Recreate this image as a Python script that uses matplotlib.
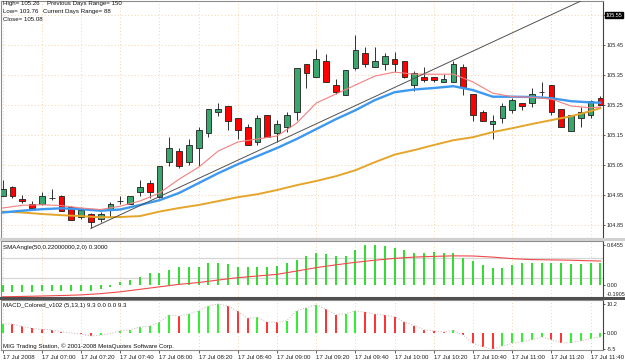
import numpy as np
import matplotlib.pyplot as plt
import matplotlib.transforms as mtransforms
from matplotlib.patches import Rectangle

plt.rcParams['font.family'] = ['Liberation Sans', 'DejaVu Sans']

# 5 minute bars, 17 Jul 2008 from 06:40
bar_open = [104.947, 104.978, 104.938, 104.919, 104.919, 104.939, 104.948, 104.909, 104.878, 104.888,
            104.869, 104.900, 104.929, 104.919, 104.959, 104.989, 104.944, 105.059, 105.097, 105.059,
            105.108, 105.156, 105.226, 105.247, 105.206, 105.176, 105.128, 105.216, 105.156, 105.176,
            105.226, 105.386, 105.344, 105.396, 105.317, 105.284, 105.374, 105.423, 105.376, 105.386,
            105.403, 105.397, 105.317, 105.344, 105.344, 105.326, 105.326, 105.376, 105.287, 105.226,
            105.187, 105.206, 105.233, 105.258, 105.258, 105.294, 105.317, 105.236, 105.164, 105.206,
            105.217, 105.272]
bar_high = [105.000, 104.980, 104.949, 104.930, 104.959, 104.970, 104.950, 104.913, 104.909, 104.891,
            104.894, 104.928, 104.947, 104.948, 105.000, 105.000, 105.048, 105.144, 105.106, 105.136,
            105.178, 105.236, 105.256, 105.247, 105.206, 105.186, 105.217, 105.216, 105.200, 105.226,
            105.374, 105.386, 105.436, 105.422, 105.336, 105.366, 105.484, 105.444, 105.444, 105.424,
            105.426, 105.397, 105.364, 105.376, 105.344, 105.353, 105.398, 105.387, 105.287, 105.233,
            105.217, 105.256, 105.274, 105.258, 105.306, 105.328, 105.317, 105.236, 105.217, 105.244,
            105.267, 105.280]
bar_low = [104.947, 104.940, 104.924, 104.900, 104.917, 104.933, 104.898, 104.867, 104.869, 104.839,
           104.861, 104.878, 104.920, 104.919, 104.947, 104.939, 104.940, 105.048, 105.039, 105.049,
           105.048, 105.144, 105.214, 105.167, 105.136, 105.117, 105.117, 105.144, 105.128, 105.159,
           105.200, 105.306, 105.344, 105.327, 105.287, 105.284, 105.367, 105.378, 105.376, 105.367,
           105.361, 105.340, 105.298, 105.326, 105.326, 105.326, 105.326, 105.283, 105.198, 105.198,
           105.136, 105.189, 105.224, 105.233, 105.244, 105.280, 105.217, 105.178, 105.164, 105.178,
           105.206, 105.252]
bar_close = [104.969, 104.947, 104.929, 104.908, 104.948, 104.939, 104.898, 104.867, 104.900, 104.860,
             104.888, 104.919, 104.929, 104.948, 104.978, 104.959, 105.048, 105.107, 105.047, 105.117,
             105.167, 105.236, 105.236, 105.198, 105.167, 105.117, 105.206, 105.144, 105.186, 105.216,
             105.374, 105.356, 105.403, 105.327, 105.294, 105.366, 105.434, 105.386, 105.396, 105.413,
             105.386, 105.344, 105.356, 105.333, 105.333, 105.336, 105.387, 105.309, 105.216, 105.198,
             105.198, 105.246, 105.267, 105.247, 105.286, 105.294, 105.226, 105.178, 105.217, 105.228,
             105.264, 105.252]

# moving averages read at every second bar
ma_bars = list(range(0, 61, 2)) + [61]
ema_fast = [104.907, 104.916, 104.918, 104.915, 104.907, 104.902, 104.913, 104.930, 104.957, 105.003,
            105.043, 105.097, 105.127, 105.137, 105.147, 105.190, 105.257, 105.287, 105.317, 105.347,
            105.360, 105.353, 105.353, 105.353, 105.327, 105.290, 105.278, 105.276, 105.270, 105.247,
            105.241, 105.244]
ema_mid = [104.892, 104.898, 104.903, 104.906, 104.903, 104.898, 104.902, 104.917, 104.933, 104.957,
           104.990, 105.023, 105.053, 105.080, 105.107, 105.137, 105.170, 105.203, 105.233, 105.267,
           105.293, 105.302, 105.307, 105.313, 105.300, 105.278, 105.278, 105.277, 105.273, 105.263,
           105.259, 105.258]
sma_slow = [104.895, 104.892, 104.887, 104.883, 104.880, 104.876, 104.877, 104.880, 104.895, 104.907,
            104.917, 104.930, 104.943, 104.953, 104.967, 104.983, 104.997, 105.013, 105.033, 105.060,
            105.085, 105.100, 105.117, 105.133, 105.143, 105.160, 105.173, 105.187, 105.200, 105.213,
            105.230, 105.240]

trend_bars = [9, 59.2]
trend_price = [104.839, 105.60]

price_ticks = [105.55, 105.45, 105.35, 105.25, 105.15, 105.05, 104.95, 104.85]
time_bars = list(range(0, 61, 4))
time_labels = ["17 Jul 2008", "17 Jul 07:00", "17 Jul 07:20", "17 Jul 07:40", "17 Jul 08:00",
               "17 Jul 08:20", "17 Jul 08:40", "17 Jul 09:00", "17 Jul 09:20", "17 Jul 09:40",
               "17 Jul 10:00", "17 Jul 10:20", "17 Jul 10:40", "17 Jul 11:00", "17 Jul 11:20",
               "17 Jul 11:40"]

sma_angle = [-0.11, -0.11, -0.11, -0.11, -0.105, -0.10, -0.10, -0.10, -0.10, -0.09,
             -0.07, -0.03, 0.054, 0.081, 0.134, 0.188, 0.188, 0.242, 0.296, 0.285,
             0.296, 0.349, 0.349, 0.333, 0.296, 0.285, 0.285, 0.285, 0.312, 0.349,
             0.403, 0.473, 0.511, 0.50, 0.468, 0.473, 0.565, 0.645, 0.645, 0.629,
             0.602, 0.565, 0.521, 0.521, 0.527, 0.521, 0.511, 0.441, 0.392, 0.323,
             0.269, 0.269, 0.323, 0.36, 0.36, 0.36, 0.36, 0.349, 0.333, 0.333,
             0.36, 0.36]
sma_angle_sig = [-0.19, -0.185, -0.178, -0.17, -0.16, -0.14, -0.11, -0.07, -0.03, 0.01,
                 0.04, 0.08, 0.118, 0.145, 0.172, 0.225, 0.28, 0.325, 0.366, 0.40,
                 0.43, 0.45, 0.462, 0.47, 0.468, 0.45, 0.425, 0.41, 0.405, 0.40,
                 0.39, 0.387]
sma_levels = [0.43, 0.12]

macd_hist = [3.3, 3.2, 2.4, 1.7, 1.4, 1.2, 0.5, 0.1, -0.3, -0.9,
             -0.7, 0.0, 0.9, 1.2, 2.2, 2.4, 3.9, 6.3, 6.0, 6.7,
             7.8, 9.5, 10.2, 9.5, 7.6, 5.3, 5.5, 4.0, 3.8, 4.4,
             7.8, 8.9, 9.9, 8.4, 6.5, 6.8, 7.8, 7.3, 6.7, 6.3,
             5.8, 3.9, 2.7, 1.25, 0.8, 0.45, 1.0, -0.6, -3.5, -4.6,
             -5.5, -4.4, -3.5, -2.9, -2.2, -1.25, -2.2, -3.3, -3.2, -2.6,
             -1.8, -1.25]

W, H = 625, 363
FS = 4.4
FS_AX = 4.0
GRID = dict(color='#f2c58c', linestyle=(0, (1, 3)), linewidth=0.6)

fig = plt.figure(figsize=(W / 100, H / 100), dpi=100)
fig.patch.set_facecolor('white')


def px_axes(x0, y0, x1, y1):
    return fig.add_axes([x0 / W, 1 - y1 / H, (x1 - x0) / W, (y1 - y0) / H])


def style(a):
    for s in a.spines.values():
        s.set_color('#8c8c8c')
        s.set_linewidth(0.8)
    a.spines['right'].set_color('#404040')
    a.yaxis.tick_right()
    a.tick_params(axis='y', length=1.5, width=0.5, pad=1.0, labelsize=FS_AX, colors='#202020')
    a.tick_params(axis='x', length=0, labelbottom=False)
    a.set_xlim(-0.17, 61.26)
    a.set_xticks(time_bars)


ax = px_axes(1, 1, 603, 238)
ax_sma = px_axes(1, 241, 603, 297)
ax_macd = px_axes(1, 300, 603, 350)
for a in (ax, ax_sma, ax_macd):
    style(a)

# price chart
n = np.arange(len(bar_open))
o = np.array(bar_open)
c = np.array(bar_close)
up = c >= o
ax.vlines(n, bar_low, bar_high, color='#303030', linewidth=0.7, zorder=3)
ax.bar(n, np.abs(c - o), bottom=np.minimum(o, c), width=0.58,
       color=np.where(up, '#3aa66e', '#ff0000'), edgecolor='#202020', linewidth=0.6, zorder=4)
ax.plot(ma_bars, sma_slow, color='#e4a52a', linewidth=1.4, zorder=5)
ax.plot(ma_bars, ema_mid, color='#3d98f0', linewidth=1.7, zorder=5)
ax.plot(ma_bars, ema_fast, color='#f28080', linewidth=0.8, zorder=6)
ax.plot(trend_bars, trend_price, color='#505050', linewidth=0.7, zorder=6)
ax.set_ylim(104.807, 105.597)
ax.set_yticks(price_ticks)
ax.set_yticklabels([''] + [f'{p:.2f}' for p in price_ticks[1:]])
ax.grid(True, **GRID)
tr = mtransforms.blended_transform_factory(ax.transAxes, ax.transData)
ax.text(1.005, price_ticks[0], f'{price_ticks[0]:.2f}', transform=tr, color='white', fontsize=FS_AX,
        va='center', ha='left', bbox=dict(facecolor='black', edgecolor='black', pad=0.5))

info = [("High= 105.26", "Previous Days Range= 150", 47),
        ("Low= 103.76", "Current Days Range= 88", 43),
        ("Close= 105.08", "", 0)]
for i, (left, right, xr) in enumerate(info):
    yy = 1 - (4 + 7.6 * i) / H
    fig.text(3 / W, yy, left, fontsize=FS, va='center', color='#101010')
    if right:
        fig.text(xr / W, yy, right, fontsize=FS, va='center', color='#101010')

# SMAAngle panel
ax_sma.vlines(n, 0, sma_angle, color='#2fdc2f', linewidth=1.4, zorder=3)
for lv in sma_levels:
    ax_sma.axhline(lv, color='#d6d6d6', linewidth=0.9, zorder=1)
ax_sma.plot(ma_bars, sma_angle_sig, color='#f04848', linewidth=0.8, zorder=4)
ax_sma.set_ylim(-0.194, 0.71)
ax_sma.set_yticks([0.6455, 0.0, -0.1905])
sma_labs = ax_sma.set_yticklabels(['0.6455', '0.00', '-0.1905'])
sma_labs[-1].set_verticalalignment('bottom')
ax_sma.grid(True, axis='x', **GRID)
ax_sma.text(0.004, 0.88, 'SMAAngle(50,0.22000000,2,0) 0.3000', transform=ax_sma.transAxes,
            fontsize=FS, va='center', color='#101010')

# MACD panel
m = np.array(macd_hist)
rising = np.r_[True, np.diff(m) > 0]
ax_macd.vlines(n, 0, m, colors=np.where(rising, '#2ff02f', '#ff3030'), linewidth=1.4, zorder=3)
ax_macd.plot(n, m, color='#d8c0c0', linewidth=0.8, linestyle=(0, (1, 1.5)), zorder=4)
ax_macd.set_ylim(-5.78, 11.56)
ax_macd.set_yticks([10.2, 0.0, -5.5])
ax_macd.set_yticklabels(['10.2', '0.00', '-5.5'])
ax_macd.grid(True, axis='x', **GRID)
ax_macd.text(0.004, 0.9, 'MACD_Colored_v102 (5,13,1) 9.3 0.0 0.0 9.3', transform=ax_macd.transAxes,
             fontsize=FS, va='center', color='#101010')
ax_macd.text(0.004, 0.08, 'MIG Trading Station, \u00a9 2001-2008 MetaQuotes Software Corp.',
             transform=ax_macd.transAxes, fontsize=FS, va='center', color='#101010')
ax_macd.set_xticklabels(time_labels)
ax_macd.tick_params(axis='x', length=2, width=0.5, pad=1.5, labelbottom=True, labelsize=FS,
                    colors='#202020')
for lab in ax_macd.get_xticklabels():
    lab.set_horizontalalignment('left')

# panel separators
fig.add_artist(Rectangle((0, 1 - 241 / H), 1, 3 / H, transform=fig.transFigure,
                         facecolor='#d0d0d0', edgecolor='none'))
fig.add_artist(Rectangle((0, 1 - 300 / H), 1, 3 / H, transform=fig.transFigure,
                         facecolor='#505050', edgecolor='none'))

fig.savefig('out.png', dpi=100)
